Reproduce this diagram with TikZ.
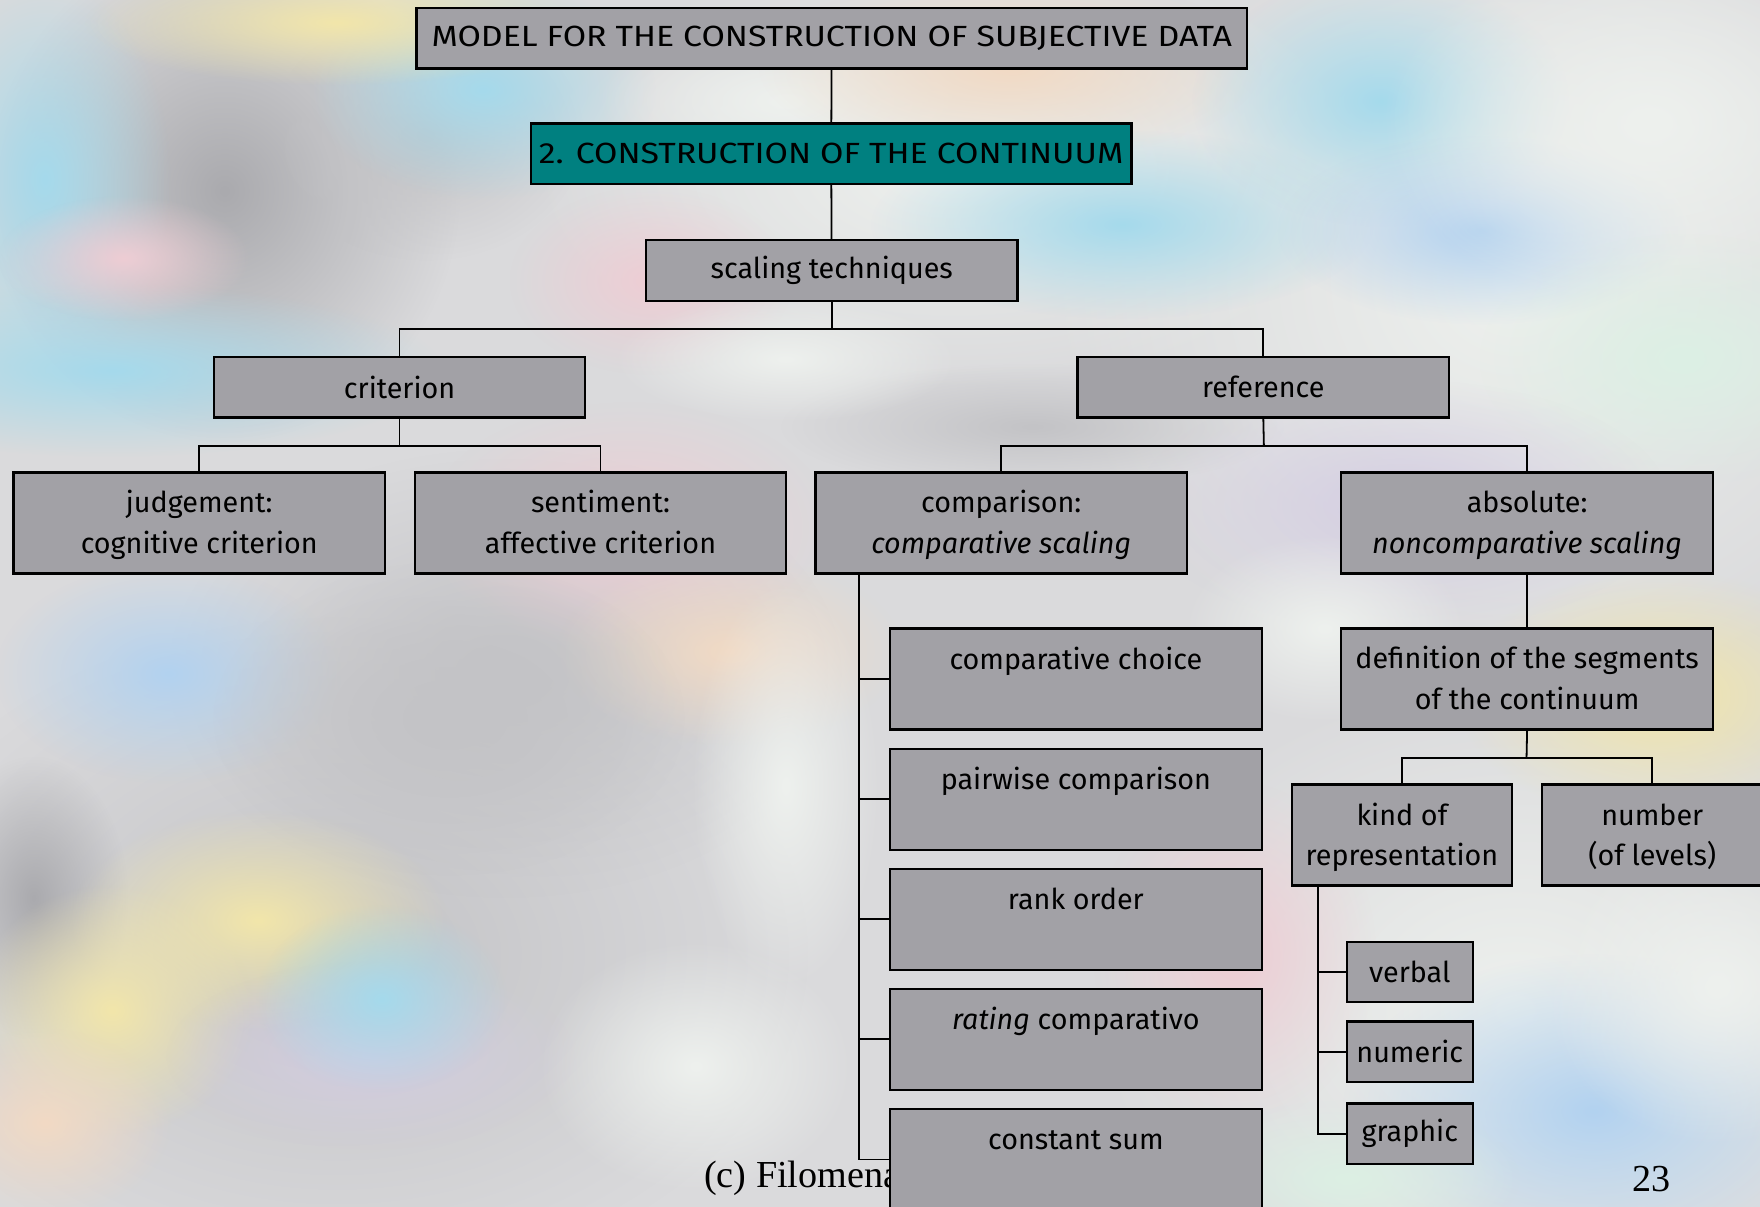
\documentclass[tikz,border=0pt]{standalone}
\usepackage{fontspec}
\setmainfont{Fira Sans}
\newfontfamily\capfont[FakeStretch=1.16]{Fira Sans}
\newfontfamily\footfont{Liberation Serif}
\usetikzlibrary{fadings}
\tikzfading[name=softblob, inner color=transparent!0, outer color=transparent!100]

\definecolor{boxgrey}{RGB}{162,161,166}
\definecolor{tealbox}{RGB}{0,128,128}
\definecolor{bgbase}{RGB}{218,218,220}
\definecolor{pcyan}{RGB}{165,218,236}
\definecolor{pblue}{RGB}{178,210,240}
\definecolor{ppink}{RGB}{238,205,212}
\definecolor{pyellow}{RGB}{242,230,170}
\definecolor{ppeach}{RGB}{242,218,196}
\definecolor{pwhite}{RGB}{238,241,238}
\definecolor{pgrey}{RGB}{170,170,174}
\definecolor{plgrey}{RGB}{195,195,198}
\definecolor{pmint}{RGB}{220,240,228}
\definecolor{plilac}{RGB}{212,205,226}

% struts fixing the first and last line of two-line labels
\newcommand\lnA{\rule{0pt}{12.5pt}}
\newcommand\lnZ{\rule[-3.5pt]{0pt}{3.5pt}}

\begin{document}
\begin{tikzpicture}[x=0.5pt,y=-0.5pt,
  box/.style={draw=black, line width=1pt, fill=boxgrey, inner sep=0pt,
    align=center, font=\fontsize{12.8}{18}\selectfont},
  wide/.style={box, minimum width=165.5pt, minimum height=27pt},
  tall/.style={box, minimum width=165.5pt, minimum height=45pt},
  tallone/.style={tall, text height=5pt, text depth=13.8pt},
  mid/.style={box, minimum width=98pt, minimum height=45pt},
  small/.style={box, minimum width=56pt, minimum height=27pt},
  capsbox/.style={box, minimum height=27pt, font=\capfont\fontsize{13}{18}\selectfont},
  link/.style={draw=black, line width=0.8pt},
  blob/.style={fill=#1, path fading=softblob}]

% soft pastel backdrop: broad washes first, then smaller tints
\useasboundingbox (0,0) rectangle (1568,1075);
\fill[bgbase] (0,0) rectangle (1568,1075);
\foreach \cx/\cy/\rx/\ry/\c in {
  1350/250/420/380/pwhite, 1350/900/380/300/pwhite, 300/850/420/300/plgrey,
  850/150/380/200/pwhite, 450/600/300/200/plgrey}
  \fill[blob=\c] (\cx,\cy) ellipse[x radius=\rx, y radius=\ry];
\foreach \cx/\cy/\rx/\ry/\c in {
  200/170/150/160/pgrey, 380/120/100/80/plgrey, 40/160/80/130/pcyan,
  100/330/210/55/pcyan, 110/230/80/40/ppink, 430/80/110/70/pcyan,
  300/20/160/40/pyellow, 700/90/120/50/pwhite, 900/60/160/60/ppeach,
  1000/200/160/60/pcyan, 1230/90/120/80/pcyan, 1320/205/130/60/pblue,
  1470/110/170/120/pwhite, 1500/320/130/80/pmint, 560/470/130/80/ppink,
  650/580/110/60/ppeach, 580/250/90/60/ppink, 150/600/110/70/pblue,
  400/640/150/100/plgrey, 30/800/60/90/pgrey, 230/820/120/70/pyellow,
  100/900/90/80/pyellow, 40/1000/80/60/ppeach, 330/940/130/60/plilac,
  340/890/80/60/pcyan, 620/950/100/80/pwhite, 700/700/60/130/pwhite,
  1100/850/90/110/ppink, 1420/990/160/100/pblue, 1530/880/110/100/pwhite,
  1480/620/130/80/pyellow, 1200/1050/110/50/pmint, 920/380/160/40/plgrey,
  1250/450/170/80/plilac, 700/320/110/40/pwhite, 1180/560/90/60/pwhite}
  \fill[blob=\c] (\cx,\cy) ellipse[x radius=1.4*\rx, y radius=1.4*\ry];

% footer, partly hidden behind the last box
\node[font=\footfont\fontsize{17}{20}\selectfont, anchor=west, inner sep=0pt] (foot) at (627,1050) {(c) Filomena};
\node[font=\footfont\fontsize{17}{20}\selectfont, inner sep=0pt] (page) at (1471,1050) {23};

% tree boxes
\node[capsbox, minimum width=370pt] (top) at (741,34) {MODEL FOR THE CONSTRUCTION OF SUBJECTIVE DATA};
\node[capsbox, fill=tealbox, minimum width=267.5pt] (cont) at (740.5,137) {2. CONSTRUCTION OF THE CONTINUUM};
\node[wide] (scal) at (741,241) {scaling techniques};
\node[wide] (crit) at (356,345) {criterion};
\node[wide] (ref) at (1125.5,345) {reference};
\node[tall] (judg) at (177.5,466) {\lnA judgement:\\cognitive criterion\lnZ};
\node[tall] (sent) at (535,466) {\lnA sentiment:\\affective criterion\lnZ};
\node[tall] (comp) at (892,466) {\lnA comparison:\\\textit{comparative scaling}\lnZ};
\node[tall] (abs) at (1360.5,466) {\lnA absolute:\\\textit{noncomparative scaling}\lnZ};
\node[tallone] (cc) at (958.5,605) {comparative choice};
\node[tallone] (pw) at (958.5,712) {pairwise comparison};
\node[tallone] (ro) at (958.5,819) {rank order};
\node[tallone] (rt) at (958.5,926) {\textit{rating} comparativo};
\node[tallone] (cs) at (958.5,1033) {constant sum};
\node[tall] (def) at (1360.5,605) {\lnA definition of the segments\\of the continuum\lnZ};
\node[mid] (kind) at (1249,744) {\lnA kind of\\representation\lnZ};
\node[mid] (num) at (1472,744) {\lnA number\\(of levels)\lnZ};
\node[small] (verb) at (1256,866) {verbal};
\node[small] (numr) at (1256,937) {numeric};
\node[small] (gra) at (1256,1010) {graphic};

% connectors
\coordinate (b1) at (741,293);
\coordinate (b2) at (356,397);
\coordinate (b3) at (1126,397);
\coordinate (b4) at (1360,675);
\coordinate (spA) at ([xshift=20pt]comp.south west);
\coordinate (spB) at ([xshift=12pt]kind.south west);

\draw[link] (top) -- (cont);
\draw[link] (cont) -- (scal);
\draw[link] (scal.south) -- (b1);
\draw[link] (crit.north) |- (b1) -| (ref.north);
\draw[link] (crit.south) -- (b2);
\draw[link] (judg.north) |- (b2) -| (sent.north);
\draw[link] (ref.south) -- (b3);
\draw[link] (comp.north) |- (b3) -| (abs.north);
\draw[link] (abs) -- (def);
\draw[link] (def.south) -- (b4);
\draw[link] (kind.north) |- (b4) -| (num.north);

\draw[link] (spA) |- (cs.west);
\foreach \b in {cc,pw,ro,rt}
  \draw[link] (spA |- \b.west) -- (\b.west);
\draw[link] (spB) |- (gra.west);
\foreach \b in {verb,numr}
  \draw[link] (spB |- \b.west) -- (\b.west);
\end{tikzpicture}
\end{document}
